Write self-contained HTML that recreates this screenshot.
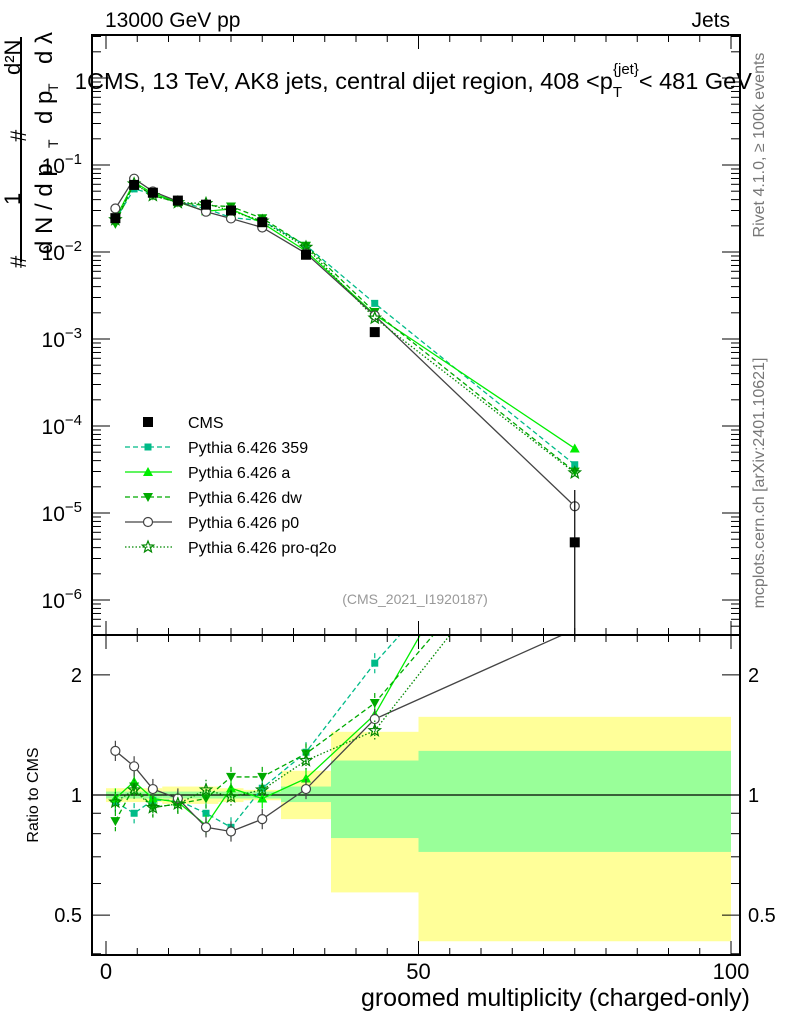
<!DOCTYPE html>
<html><head><meta charset="utf-8"><style>
body{margin:0;background:#fff;width:786px;height:1024px;overflow:hidden;font-family:"Liberation Sans",sans-serif}
svg text{font-family:"Liberation Sans","DejaVu Sans",sans-serif}
</style></head><body>
<svg id="c" width="786" height="1024" xmlns="http://www.w3.org/2000/svg"></svg>
<script>
const binEdges=[0,3,6,9,14,18,22,28,36,50,100];
const cms=[0.0245,0.059,0.048,0.039,0.035,0.030,0.022,0.0093,0.0012,4.6e-6];
const r359=[0.96,0.90,0.97,0.97,0.90,0.83,1.04,1.28,2.14,7.8];
const rA=[0.98,1.08,0.98,0.96,0.84,1.04,0.98,1.10,1.59,12];
const rDw=[0.86,1.05,0.93,0.95,0.98,1.11,1.11,1.27,1.70,6.5];
const rP0=[1.29,1.18,1.035,0.98,0.83,0.81,0.87,1.035,1.55,2.6];
const rQ2o=[0.96,1.03,0.93,0.95,1.03,0.99,1.03,1.22,1.45,6.3];
const bandYellowUp=[1.04,1.04,1.04,1.05,1.05,1.04,1.03,1.15,1.44,1.57];
const bandYellowDn=[0.96,0.96,0.96,0.95,0.95,0.96,0.97,0.87,0.57,0.43];
const bandGreenUp=[1.02,1.02,1.02,1.02,1.02,1.02,1.02,1.05,1.22,1.29];
const bandGreenDn=[0.98,0.98,0.98,0.98,0.98,0.98,0.98,0.96,0.78,0.72];
const xTicks=[0,50,100];
const ratioTicks=[0.5,1,2];

const NS="http://www.w3.org/2000/svg",S=document.getElementById('c');
function el(t,a,p){const e=document.createElementNS(NS,t);for(const k in a)e.setAttribute(k,a[k]);(p||S).appendChild(e);return e;}
const L=92,R=740,T=35,M=635,B=955;
const X=v=>106+v*6.25;
const YM=v=>165-87*(Math.log10(v)+1);
const YR=v=>795-399*Math.log10(v);
const cx=binEdges.slice(0,-1).map((e,i)=>(e+binEdges[i+1])/2);
const defs=el('defs',{});
const c1=el('clipPath',{id:'cm'},defs);el('rect',{x:L,y:T,width:R-L,height:M-T},c1);
const c2=el('clipPath',{id:'cr'},defs);el('rect',{x:L,y:M,width:R-L,height:B-M},c2);
const gb=el('g',{'clip-path':'url(#cr)'});

for(let i=0;i<cx.length;i++){
 const y=el('rect',{x:X(binEdges[i]),width:X(binEdges[i+1])-X(binEdges[i]),y:YR(bandYellowUp[i]),height:YR(bandYellowDn[i])-YR(bandYellowUp[i]),fill:'#ffff99'},gb);
 
 const g=el('rect',{x:X(binEdges[i]),width:X(binEdges[i+1])-X(binEdges[i]),y:YR(bandGreenUp[i]),height:YR(bandGreenDn[i])-YR(bandGreenUp[i]),fill:'#99ff99'},gb);
 
}
el('line',{x1:L,x2:R,y1:YR(1),y2:YR(1),stroke:'#000','stroke-width':1.2});
const series=[
 {n:'pythia-359',r:r359,c:'#00bb88',d:'5,3',m:'sq'},
 {n:'pythia-a',r:rA,c:'#00ee00',d:'',m:'tu'},
 {n:'pythia-dw',r:rDw,c:'#00aa00',d:'5,3',m:'td'},
 {n:'pythia-p0',r:rP0,c:'#444',d:'',m:'ci'},
 {n:'pythia-pro-q2o',r:rQ2o,c:'#008800',d:'1.5,2',m:'st'}];
function marker(m,x,y,c,p){
 let e;
 if(m==='sq')e=el('rect',{x:x-3.5,y:y-3.5,width:7,height:7,fill:c},p);
 else if(m==='tu')e=el('polygon',{points:`${x},${y-5} ${x-5},${y+4} ${x+5},${y+4}`,fill:c},p);
 else if(m==='td')e=el('polygon',{points:`${x},${y+5} ${x-5},${y-4} ${x+5},${y-4}`,fill:c},p);
 else if(m==='ci')e=el('circle',{cx:x,cy:y,r:4.5,fill:'#fff',stroke:c,'stroke-width':1.2},p);
 else if(m==='st'){let pts=[];for(let k=0;k<10;k++){const a=-Math.PI/2+k*Math.PI/5,rr=k%2?2.6:6;pts.push((x+rr*Math.cos(a)).toFixed(1)+','+(y+rr*Math.sin(a)).toFixed(1));}e=el('polygon',{points:pts.join(' '),fill:'none',stroke:c,'stroke-width':1.2},p);}
 else if(m==='bsq')e=el('rect',{x:x-5,y:y-5,width:10,height:10,fill:'#000'},p);
 return e;
}
series.forEach(s=>{
 const vals=cms.map((v,i)=>v*s.r[i]);
 const gm=el('g',{'clip-path':'url(#cm)'});
 
 el('polyline',{points:cx.map((x,i)=>X(x)+','+YM(vals[i])).join(' '),fill:'none',stroke:s.c,'stroke-width':1.3,'stroke-dasharray':s.d},gm);
 cx.forEach((x,i)=>{const e=marker(s.m,X(x),YM(vals[i]),s.c,gm);});
 const gr=el('g',{'clip-path':'url(#cr)'});
 
 el('polyline',{points:cx.map((x,i)=>X(x)+','+YR(s.r[i])).join(' '),fill:'none',stroke:s.c,'stroke-width':1.3,'stroke-dasharray':s.d},gr);
 cx.forEach((x,i)=>{
  el('line',{x1:X(x),x2:X(x),y1:YR(s.r[i]*1.06),y2:YR(s.r[i]/1.06),stroke:s.c,'stroke-width':1.2,'stroke-dasharray':s.d},gr);
  const e=marker(s.m,X(x),YR(s.r[i]),s.c,gr);});
});
const gc=el('g',{'clip-path':'url(#cm)'});

el('line',{x1:X(cx[9]),x2:X(cx[9]),y1:YM(cms[9]*4),y2:M,stroke:'#000','stroke-width':1.2},gc);
cx.forEach((x,i)=>{const e=marker('bsq',X(x),YM(cms[i]),'#000',gc);});
el('rect',{x:L,y:T,width:R-L,height:M-T,fill:'none',stroke:'#000','stroke-width':2});
el('rect',{x:L,y:M,width:R-L,height:B-M,fill:'none',stroke:'#000','stroke-width':2});
for(let v=0;v<=100;v+=5){const big=v%50===0,len=big?14:7;
 [T,M].forEach(y0=>el('line',{x1:X(v),x2:X(v),y1:y0,y2:y0+len,stroke:'#000'}));
 el('line',{x1:X(v),x2:X(v),y1:B,y2:B-len,stroke:'#000'});
 el('line',{x1:X(v),x2:X(v),y1:M,y2:M-len,stroke:'#000'});}
xTicks.forEach(v=>{const t=el('text',{x:X(v),y:979,'font-size':22,'text-anchor':'middle'});t.textContent=v;});
for(let d=-7;d<=0;d++)for(let k=1;k<10;k++){const v=k*Math.pow(10,d),y=YM(v);if(y<T||y>M)continue;const len=k===1?18:9;
 el('line',{x1:L,x2:L+len,y1:y,y2:y,stroke:'#000'});el('line',{x1:R,x2:R-len,y1:y,y2:y,stroke:'#000'});
 if(k===1&&d<0){const t=el('text',{x:82,y:y+8,'font-size':21,'text-anchor':'end'});t.innerHTML='10<tspan dy="-9" font-size="15">−'+(-d)+'</tspan>';}}
[0.4,0.5,0.6,0.7,0.8,0.9,1,2].forEach(v=>{const y=YR(v),len=[0.5,1,2].includes(v)?18:9;
 el('line',{x1:L,x2:L+len,y1:y,y2:y,stroke:'#000'});el('line',{x1:R,x2:R-len,y1:y,y2:y,stroke:'#000'});});
ratioTicks.forEach(v=>{[[82,'end'],[748,'start']].forEach(([x,a])=>{const t=el('text',{x:x,y:YR(v)+7,'font-size':20,'text-anchor':a});t.textContent=v;});});
function txt(s,a,name){const t=el('text',a);t.innerHTML=s;return t;}
txt('13000 GeV pp',{x:105,y:27,'font-size':21},'header-left');
txt('Jets',{x:730,y:27,'font-size':21,'text-anchor':'end'},'header-right');
txt('1',{x:87,y:89,'font-size':22,'text-anchor':'end'},'y-tick-label-top');
txt('CMS, 13 TeV, AK8 jets, central dijet region, 408 &lt;p<tspan dy="8" font-size="15">T</tspan><tspan dy="-23" dx="-9" font-size="15">{jet}</tspan><tspan dy="15">&lt; 481 GeV</tspan>',{x:87,y:89,'font-size':23.5},'plot-title');
txt('groomed multiplicity (charged-only)',{x:750,y:1006,'font-size':25,'text-anchor':'end'},'x-axis-title');
txt('Ratio to CMS',{x:38,y:795,'font-size':16,'text-anchor':'middle',transform:'rotate(-90 38 795)'},'ratio-y-title');
txt('(CMS_2021_I1920187)',{x:415,y:604,'font-size':14,fill:'#999','text-anchor':'middle'},'analysis-id');
txt('Rivet 4.1.0, ≥ 100k events',{x:764,y:145,'font-size':16,fill:'#777','text-anchor':'middle',transform:'rotate(-90 764 145)'},'rivet-label');
txt('mcplots.cern.ch [arXiv:2401.10621]',{x:764,y:483,'font-size':16,fill:'#777','text-anchor':'middle',transform:'rotate(-90 764 483)'},'mcplots-label');
const yt=el('g',{});
el('line',{x1:21,x2:21,y1:37,y2:262,stroke:'#000','stroke-width':2},yt);
[['#',26,268,22],['1',20,205,22],['#',26,142,22],['d²N',20,75,22],['d N / d p',52,254,24],['T',58,148,14],['d p',52,124,24],['T',58,92,14],['d λ',52,64,24]].forEach(([s,x,y,f])=>{const t=el('text',{x:x,y:y,'font-size':f,transform:`rotate(-90 ${x} ${y})`},yt);t.textContent=s;});
const leg=[['CMS','bsq','#000','',false],['Pythia 6.426 359','sq','#00bb88','5,3',true],['Pythia 6.426 a','tu','#00ee00','',true],['Pythia 6.426 dw','td','#00aa00','5,3',true],['Pythia 6.426 p0','ci','#444','',true],['Pythia 6.426 pro-q2o','st','#008800','1.5,2',true]];
leg.forEach((l,i)=>{const y=422+i*25;const g=el('g',{});
 if(l[4])el('line',{x1:125,x2:172,y1:y,y2:y,stroke:l[2],'stroke-width':1.3,'stroke-dasharray':l[3]},g);
 marker(l[1],148,y,l[2],g);
 const t=el('text',{x:188,y:y+6,'font-size':16},g);t.textContent=l[0];});
</script>
</body></html>
